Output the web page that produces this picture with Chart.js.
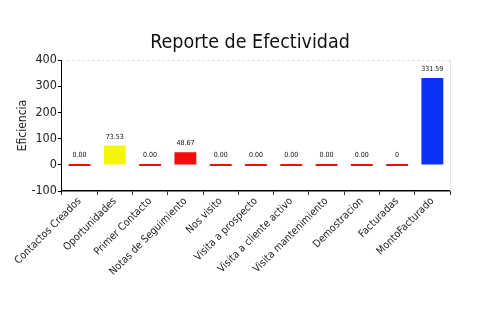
<!DOCTYPE html>
<html>
<head>
<meta charset="utf-8">
<script src="https://cdn.jsdelivr.net/npm/chart.js@4"></script>
<style>
  html, body { margin: 0; padding: 0; background: #fff; }
  #wrap { width: 500px; height: 330px; }
</style>
</head>
<body>
<div id="wrap"><canvas id="chart"></canvas></div>
<script>
const categories = ['Contactos Creados', 'Oportunidades', 'Primer Contacto', 'Notas de Seguimiento', 'Nos visito',
    'Visita a prospecto', 'Visita a cliente activo', 'Visita mantenimiento', 'Demostracion', 'Facturadas', 'MontoFacturado'];
const values = [0, 73.53, 0, 48.67, 0, 0, 0, 0, 0, 0, 331.59];
const valueLabels = ['0.00', '73.53', '0.00', '48.67', '0.00', '0.00', '0.00', '0.00', '0.00', '0', '331.59'];
const barColors = ['#f20d0d', '#f5f50a', '#f20d0d', '#f20d0d', '#f20d0d', '#f20d0d', '#f20d0d', '#f20d0d', '#f20d0d', '#f20d0d', '#0a32f5'];
const yTicks = [-100, 0, 100, 200, 300, 400];
const chartTitle = 'Reporte de Efectividad';

const FONT = '"DejaVu Sans", sans-serif';
const NARROW = 'condensed';   // font-stretch en el shorthand

// etiquetas pequeñas sobre cada barra
const barLabels = {
    id: 'barLabels',
    afterDatasetsDraw(chart) {
        const ctx = chart.ctx;
        const meta = chart.getDatasetMeta(0);
        ctx.save();
        ctx.font = NARROW + ' 7px ' + FONT;
        ctx.fillStyle = '#111';
        ctx.textAlign = 'center';
        ctx.textBaseline = 'bottom';
        meta.data.forEach((bar, i) => {
            ctx.fillText(valueLabels[i], bar.x, Math.min(bar.y, bar.base) - 5);
        });
        ctx.restore();
    }
};

// titulo centrado en todo el canvas + marco gris claro
const frame = {
    id: 'frame',
    beforeDatasetsDraw(chart) {
        const a = chart.chartArea;
        const ctx = chart.ctx;
        ctx.save();
        ctx.strokeStyle = '#e4e4e4';
        ctx.lineWidth = 1;
        ctx.setLineDash([3, 2]);
        ctx.beginPath();
        ctx.moveTo(a.left, a.top + 0.5);
        ctx.lineTo(a.right, a.top + 0.5);
        ctx.stroke();
        ctx.setLineDash([]);
        ctx.beginPath();
        ctx.moveTo(a.right + 0.5, a.top);
        ctx.lineTo(a.right + 0.5, a.bottom);
        ctx.stroke();

        ctx.font = NARROW + ' 19.5px ' + FONT;
        ctx.fillStyle = '#111';
        ctx.textAlign = 'center';
        ctx.textBaseline = 'middle';
        ctx.fillText(chartTitle, chart.width / 2, 43);
        ctx.restore();
    }
};

new Chart(document.getElementById('chart'), {
    type: 'bar',
    data: {
        labels: categories,
        datasets: [{
            data: values,
            backgroundColor: barColors,
            borderColor: barColors,
            borderWidth: 0,
            minBarLength: 2,
            barPercentage: 0.62,
            categoryPercentage: 1
        }]
    },
    options: {
        responsive: true,
        maintainAspectRatio: false,
        animation: false,
        layout: { padding: { top: 60, right: 50, bottom: 52, left: 16 } },
        plugins: {
            legend: { display: false },
            tooltip: { enabled: false },
            title: { display: false }
        },
        scales: {
            y: {
                min: -100,
                max: 400,
                ticks: {
                    stepSize: 50,
                    color: '#222',
                    font: { family: FONT, size: 12.5, weight: NARROW },
                    padding: 1,
                    callback: v => yTicks.includes(v) ? v : ''
                },
                grid: {
                    drawOnChartArea: false,
                    tickLength: 4,
                    tickColor: c => (c.tick && c.tick.value % 100 === 0) ? '#000' : '#e00000'
                },
                border: { color: '#000', width: 1 },
                title: {
                    display: true,
                    text: 'Eficiencia',
                    color: '#222',
                    font: { family: FONT, size: 12, weight: NARROW },
                    padding: 0
                }
            },
            x: {
                ticks: {
                    color: '#222',
                    font: { family: FONT, size: 10.5, weight: NARROW },
                    maxRotation: 45,
                    minRotation: 45,
                    padding: 0
                },
                grid: {
                    drawOnChartArea: false,
                    tickLength: 4,
                    tickColor: '#333'
                },
                border: { color: '#000', width: 1.5 }
            }
        }
    },
    plugins: [barLabels, frame]
});
</script>
</body>
</html>
